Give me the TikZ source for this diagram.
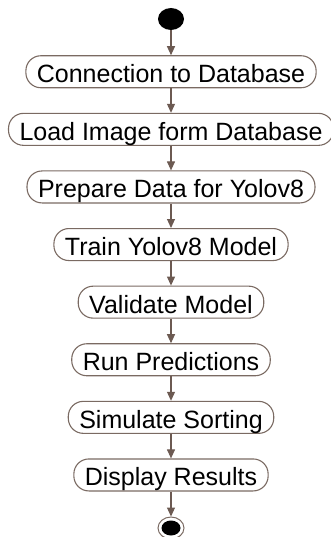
\documentclass[tikz,border=0pt]{standalone}
\usepackage{fontspec}
\setmainfont{Liberation Sans}
\usepackage{xcolor}
\usetikzlibrary{positioning,shapes.geometric,arrows.meta}
\definecolor{boxline}{RGB}{122,106,98}
\definecolor{flowarrow}{RGB}{108,90,82}

\begin{document}
\begin{tikzpicture}[x=1pt,y=1pt,
        node distance=24.5pt,
        activity/.style={draw=boxline,line width=1.1pt,rounded corners=15pt,
            minimum height=32pt,inner xsep=11pt,inner ysep=0pt,
            text height=22pt,text depth=0pt,font=\fontsize{25}{30}\selectfont},
        flow/.style={draw=flowarrow,line width=1.1pt,-{Triangle[width=8pt,length=9pt]}}]
    % 边界
    \useasboundingbox (0,0) rectangle (331,-537);

    % 起点
    \node[ellipse,fill=black,minimum width=26pt,minimum height=22pt,inner sep=0pt]
        (start) at (171,-19) {};

    % 活动节点
    \node[activity,below=25pt of start] (connect) {Connection to Database};
    \node[activity,below=of connect] (load) {Load Image form Database};
    \node[activity,below=of load] (prepare) {Prepare Data for Yolov8};
    \node[activity,below=of prepare] (train) {Train Yolov8 Model};
    \node[activity,below=of train] (validate) {Validate Model};
    \node[activity,below=of validate] (predict) {Run Predictions};
    \node[activity,below=of predict] (sorting) {Simulate Sorting};
    \node[activity,below=of sorting] (display) {Display Results};

    % 终点
    \node[ellipse,draw=boxline,line width=1pt,minimum width=26pt,minimum height=22pt,
        inner sep=0pt,below=25pt of display] (stop) {};
    \node[ellipse,fill=black,minimum width=19pt,minimum height=15pt,inner sep=0pt]
        (stopdot) at (stop.center) {};

    % 箭头
    \foreach \a/\b in {start/connect,connect/load,load/prepare,prepare/train,
            train/validate,validate/predict,predict/sorting,sorting/display,display/stop}
        \draw[flow] (\a) -- (\b);
\end{tikzpicture}
\end{document}
